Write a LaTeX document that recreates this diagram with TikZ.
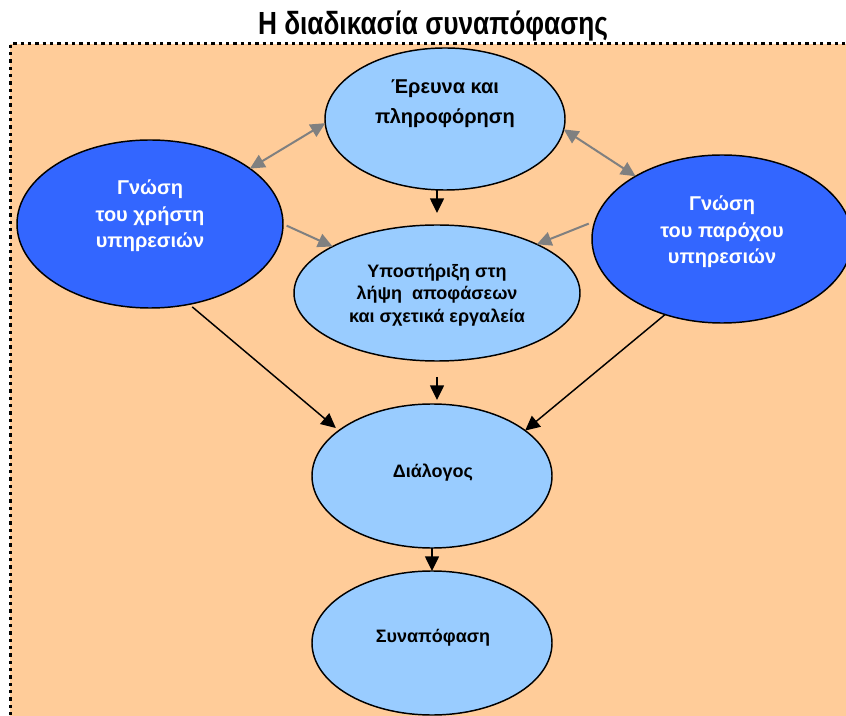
\documentclass[tikz,border=0pt]{standalone}
\usepackage{fontspec}
\setmainfont{Liberation Sans}
\newfontfamily\titlefont{Liberation Sans}[FakeStretch=0.82]
\usetikzlibrary{arrows.meta,shapes.geometric}

\definecolor{paleorange}{RGB}{255,204,153}
\definecolor{paleblue}{RGB}{153,204,255}
\definecolor{deepblue}{RGB}{51,102,255}
\definecolor{linkgray}{RGB}{128,128,128}

\tikzset{every picture/.style={line width=0.75pt}}
\tikzset{
  >={Triangle[length=11pt,width=10.5pt]},
  bubble/.style={ellipse, draw=black, line width=1.1pt, inner sep=0pt, outer sep=0pt},
  lightbubble/.style={bubble, fill=paleblue},
  darkbubble/.style={bubble, fill=deepblue},
  darktext/.style={font=\bfseries\fontsize{15}{20}\selectfont, text=white, align=center},
  mainlink/.style={draw=black, line width=1.1pt},
  sidelink/.style={draw=linkgray, line width=1.5pt},
}

\begin{document}
\begin{tikzpicture}[x=0.75pt,y=0.75pt,yscale=-1,xscale=1]
\useasboundingbox (0,0) rectangle (846,716);

%Shape: Rectangle (dotted frame)
\fill[paleorange] (10,44) rectangle (860,730);
\draw[line width=2.25pt, dash pattern=on 2.6pt off 2.9pt] (10,730) -- (10,44) -- (860,44);

% Title
\node (title) at (433,26) {\titlefont\bfseries\fontsize{24}{28}\selectfont Η διαδικασία συναπόφασης};

%Shape: Ellipse
\node[lightbubble, minimum width=180pt, minimum height=106.5pt] (research) at (445,119) {};
\node[darkbubble, minimum width=199.5pt, minimum height=126pt] (user) at (150,224) {};
\node[darkbubble, minimum width=195pt, minimum height=126pt] (provider) at (722,239) {};
\node[lightbubble, minimum width=214.5pt, minimum height=102pt] (support) at (437,293) {};
\node[lightbubble, minimum width=180pt, minimum height=108pt] (dialogue) at (432,476) {};
\node[lightbubble, minimum width=180pt, minimum height=108pt] (consensus) at (432,643) {};

% Text Node
\node[font=\bfseries\fontsize{15}{22.5}\selectfont, align=center] (researchtext) at (445,104) {Έρευνα και\\πληροφόρηση};
% Text Node
\node[darktext] (usertext) at (150,216) {Γνώση\\του χρήστη\\υπηρεσιών};
% Text Node
\node[darktext] (providertext) at (722,232) {Γνώση\\του παρόχου\\υπηρεσιών};
% Text Node
\node[font=\bfseries\fontsize{13.5}{17}\selectfont, align=center] (supporttext) at (437,295) {Υποστήριξη στη\\λήψη\ \ αποφάσεων\\και σχετικά εργαλεία};
% Text Node
\node[font=\bfseries\fontsize{13.5}{17}\selectfont] (dialoguetext) at (433,473) {Διάλογος};
% Text Node
\node[font=\bfseries\fontsize{13.5}{17}\selectfont] (consensustext) at (433,638) {Συναπόφαση};

%Gray links
\draw[sidelink,<->] (user.29) -- (research.182);
\draw[sidelink,<->] (research.355) -- (provider.144);
\draw[sidelink,->,shorten <=3pt] (user.0) -- (support.156);
\draw[sidelink,->,shorten <=5pt] (provider.172) -- (support.26);

%Black links
\draw[mainlink,->,shorten >=9pt] (research.south -| support.north) -- (support.north);
\draw[mainlink,->,shorten <=12pt,shorten >=3pt] (support.south) -- (support.south |- dialogue.north);
\draw[mainlink,->,shorten <=3pt,shorten >=3pt] (user.296) -- (dialogue.154);
\draw[mainlink,->] (provider.233) -- (dialogue.26);
\draw[mainlink,->] (dialogue.south) -- (consensus.north);

\end{tikzpicture}
\end{document}
